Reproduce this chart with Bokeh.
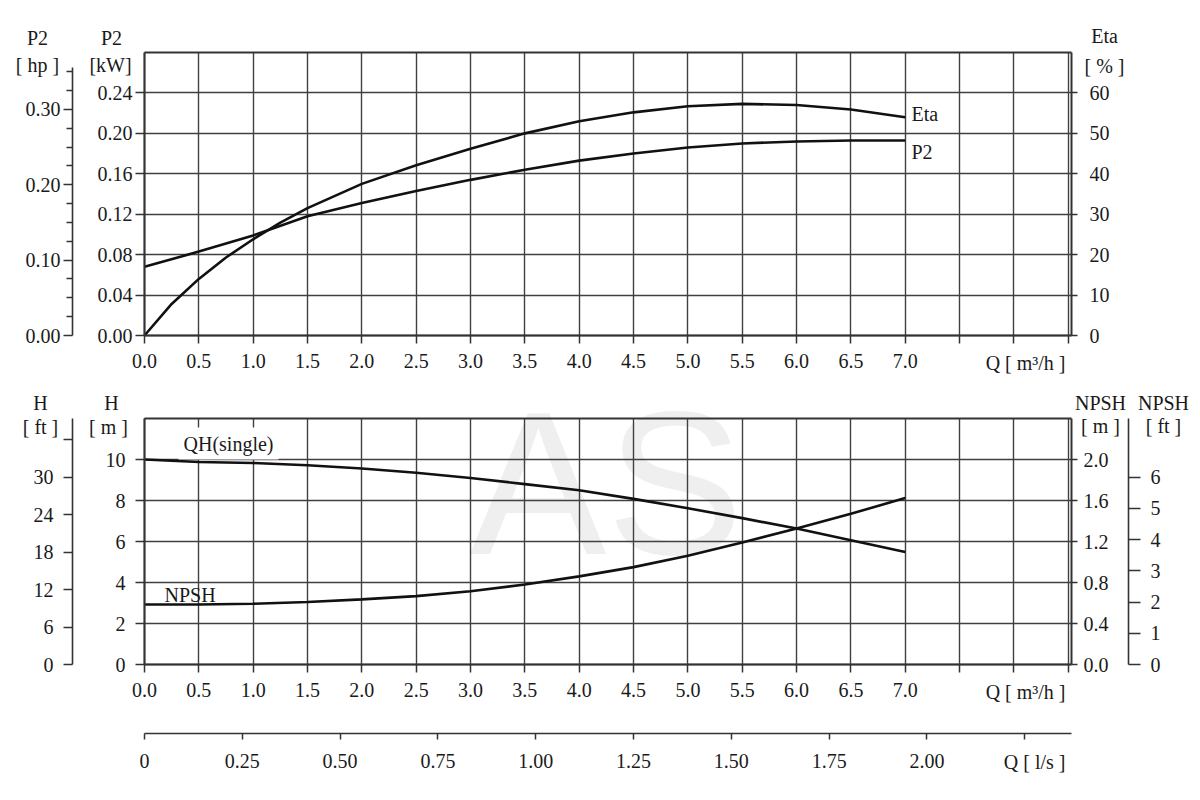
from bokeh.plotting import figure
from bokeh.models import (Range1d, LinearAxis, FixedTicker, Label, Grid,
                          NumeralTickFormatter)
from bokeh.embed import file_html
from bokeh.resources import INLINE

# ---------------- data ----------------
q_m3h = [0.0, 0.5, 1.0, 1.5, 2.0, 2.5, 3.0, 3.5, 4.0, 4.5, 5.0, 5.5, 6.0, 6.5, 7.0]
p2_kw = [0.068, 0.083, 0.099, 0.118, 0.131, 0.143, 0.154, 0.164, 0.173, 0.180,
         0.186, 0.190, 0.192, 0.193, 0.193]
q_eta = [0.0, 0.25, 0.5, 0.75, 1.0, 1.25, 1.5, 2.0, 2.5, 3.0, 3.5, 4.0, 4.5,
         5.0, 5.5, 6.0, 6.5, 7.0]
eta_pct = [0.0, 7.8, 14.0, 19.3, 23.8, 27.9, 31.5, 37.5, 42.1, 46.2, 50.0, 53.0,
           55.2, 56.7, 57.3, 57.0, 55.9, 54.0]
h_m = [10.0, 9.88, 9.83, 9.72, 9.56, 9.35, 9.10, 8.80, 8.50, 8.08,
       7.62, 7.14, 6.63, 6.06, 5.49]
npsh_m = [0.585, 0.585, 0.593, 0.61, 0.635, 0.667, 0.715, 0.78, 0.86, 0.95,
          1.06, 1.19, 1.327, 1.47, 1.625]

# ---------------- ticks ----------------
q_ticks = [0.0, 0.5, 1.0, 1.5, 2.0, 2.5, 3.0, 3.5, 4.0, 4.5, 5.0, 5.5, 6.0, 6.5,
           7.0, 7.5, 8.0, 8.5]
q_hidden = [7.5, 8.0, 8.5]
kw_ticks = [0.0, 0.04, 0.08, 0.12, 0.16, 0.20, 0.24]
hp_ticks = [0.0, 0.10, 0.20, 0.30]
hp_minor = [0.025, 0.05, 0.075, 0.125, 0.15, 0.175, 0.225, 0.25, 0.275, 0.325, 0.35]
eta_ticks = [0, 10, 20, 30, 40, 50, 60]
h_ticks = [0, 2, 4, 6, 8, 10]
hft_ticks = [0, 6, 12, 18, 24, 30, 36]
hft_hidden = [36]
npsh_ticks = [0.0, 0.4, 0.8, 1.2, 1.6, 2.0]
npshft_ticks = [0, 1, 2, 3, 4, 5, 6]
ls_ticks = [0.0, 0.25, 0.50, 0.75, 1.00, 1.25, 1.50, 1.75, 2.00, 2.25]

# unit conversions
KW_PER_HP = 0.7457
M_PER_FT = 0.3048
M3H_PER_LS = 3.6

# axis extents
Q_MAX = 8.53
KW_MAX = 0.28
ETA_MAX = 70.0
H_MAX = 12.0
NPSH_MAX = 2.4
HP_TOP = 0.355

# ---------------- page geometry (pixels) ----------------
W, H = 1192, 792
X0, PX_Q = 144, 927 / Q_MAX           # Q = 0 position, px per m3/h
TOP_Y0, PX_KW = 335, 283 / KW_MAX      # kW = 0 position, px per kW
BOT_Y0, PX_H = 664, 246 / H_MAX        # H = 0 position, px per m
X_HP = 72                              # outer left axes
X_NPSHFT = 1128                        # outer right axis
Y_LS = 733                             # l/s axis

FONT = "Liberation Serif"
FS = "20px"
TXT = "#1a1a1a"
GRID = "#404040"
AX = "#333333"


def q_at(px):
    return (px - X0) / PX_Q


def kw_at(py):
    return (TOP_Y0 - py) / PX_KW


def h_at(py):
    return (BOT_Y0 - py) / PX_H


p = figure(width=W, height=H, min_border=0,
           x_range=Range1d(q_at(0), q_at(W)), y_range=Range1d(kw_at(H), kw_at(0)),
           x_axis_location=None, y_axis_location=None,
           output_backend="svg", toolbar_location=None,
           background_fill_color="white", border_fill_color="white")
p.outline_line_color = None
p.grid.visible = False

p.extra_x_ranges = {"ls": Range1d(q_at(0) / M3H_PER_LS, q_at(W) / M3H_PER_LS)}
p.extra_y_ranges = {
    "hp": Range1d(kw_at(H) / KW_PER_HP, kw_at(0) / KW_PER_HP),
    "eta": Range1d(kw_at(H) * ETA_MAX / KW_MAX, kw_at(0) * ETA_MAX / KW_MAX),
    "h": Range1d(h_at(H), h_at(0)),
    "hft": Range1d(h_at(H) / M_PER_FT, h_at(0) / M_PER_FT),
    "npsh": Range1d(h_at(H) * NPSH_MAX / H_MAX, h_at(0) * NPSH_MAX / H_MAX),
    "npshft": Range1d(h_at(H) * NPSH_MAX / H_MAX / M_PER_FT,
                      h_at(0) * NPSH_MAX / H_MAX / M_PER_FT),
}


def add_axis(side, loc, bounds, ticks, xr="default", yr="default", fmt=None,
             hidden=(), tick_out=7, standoff=4, minor=None, line_w=1.6):
    ax = LinearAxis(fixed_location=loc, bounds=bounds, x_range_name=xr, y_range_name=yr)
    ax.ticker = FixedTicker(ticks=ticks, minor_ticks=minor or [])
    ax.major_label_text_font = FONT
    ax.major_label_text_font_size = FS
    ax.major_label_text_color = TXT
    ax.axis_line_color = AX
    ax.axis_line_width = line_w
    ax.major_tick_line_color = AX
    ax.major_tick_line_width = 1.5
    ax.major_tick_in = 0
    ax.major_tick_out = tick_out
    ax.minor_tick_in = 0
    if minor:
        ax.minor_tick_out = 6
        ax.minor_tick_line_color = AX
        ax.minor_tick_line_width = 1.4
    else:
        ax.minor_tick_line_color = None
    ax.major_label_standoff = standoff
    if fmt:
        ax.formatter = NumeralTickFormatter(format=fmt)
    if hidden:
        ax.major_label_overrides = {h: "" for h in hidden}
    p.add_layout(ax, side)
    return ax


def add_grid(dim, ticks, cross, yr="default"):
    g = Grid(dimension=dim, ticker=FixedTicker(ticks=ticks), cross_bounds=cross,
             y_range_name=yr, grid_line_color=GRID, grid_line_width=1.4)
    p.add_layout(g)


def add_label(sx, sy, text, align="center", bg=None):
    lab = Label(x=sx, y=H - sy, x_units="screen", y_units="screen", text=text,
                text_font=FONT, text_font_size=FS, text_align=align,
                text_baseline="middle", text_color=TXT)
    if bg:
        lab.background_fill_color = bg
        lab.padding = 5
    p.add_layout(lab)


# watermark (behind the grid)
p.add_layout(Label(x=606, y=H - 482, x_units="screen", y_units="screen", text="AS",
                   text_font="Liberation Sans", text_font_size="205px",
                   text_align="center", text_baseline="alphabetic",
                   text_color="#efefef", level="image"))

# ================= top panel: P2 / Eta =================
add_grid(0, q_ticks, (0, KW_MAX))
add_grid(1, kw_ticks, (0, Q_MAX))

add_axis("below", 0.0, (0, Q_MAX), q_ticks, fmt="0.0", hidden=q_hidden,
         tick_out=8, standoff=10, line_w=2)
add_axis("above", KW_MAX, (0, Q_MAX), [], line_w=2)
add_axis("left", 0.0, (0, KW_MAX), kw_ticks, fmt="0.00", tick_out=9, standoff=3, line_w=2)
add_axis("left", q_at(X_HP), (0, HP_TOP), hp_ticks, yr="hp", fmt="0.00",
         tick_out=9, standoff=3, minor=hp_minor)
add_axis("right", Q_MAX, (0, ETA_MAX), eta_ticks, yr="eta", tick_out=6,
         standoff=12, line_w=2)

p.line(q_m3h, p2_kw, line_color="#111111", line_width=2.6)
p.line(q_eta, eta_pct, y_range_name="eta", line_color="#111111", line_width=2.6)

add_label(37, 37, "P2")
add_label(37, 64, "[ hp ]")
add_label(111, 37, "P2")
add_label(110, 64, "[kW]")
add_label(1104, 35, "Eta")
add_label(1104, 65, "[ % ]")
add_label(911, 113, "Eta", align="left")
add_label(911, 151, "P2", align="left")
add_label(1070, 362, "Q  [ m³/h ]", align="right")

# ================= bottom panel: H / NPSH =================
add_grid(0, q_ticks, (0, H_MAX), yr="h")
add_grid(1, h_ticks, (0, Q_MAX), yr="h")

add_axis("below", 0.0, (0, Q_MAX), q_ticks, yr="h", fmt="0.0", hidden=q_hidden,
         tick_out=8, standoff=10, line_w=2)
add_axis("above", H_MAX, (0, Q_MAX), [], yr="h", line_w=2)
ls_ax = add_axis("below", h_at(Y_LS), (0, Q_MAX / M3H_PER_LS), ls_ticks, xr="ls",
                 yr="h", fmt="0.00", tick_out=6, standoff=14)
ls_ax.major_label_overrides = {0.0: "0", 2.25: ""}
add_axis("left", 0.0, (0, H_MAX), h_ticks, yr="h", tick_out=9, standoff=10, line_w=2)
add_axis("left", q_at(X_HP), (0, H_MAX / M_PER_FT), hft_ticks, yr="hft",
         hidden=hft_hidden, tick_out=9, standoff=10)
add_axis("right", Q_MAX, (0, NPSH_MAX), npsh_ticks, yr="npsh", fmt="0.0",
         tick_out=6, standoff=6, line_w=2)
add_axis("right", q_at(X_NPSHFT), (0, NPSH_MAX / M_PER_FT), npshft_ticks,
         yr="npshft", tick_out=12, standoff=10)

p.line(q_m3h, h_m, y_range_name="h", line_color="#111111", line_width=2.6)
p.line(q_m3h, npsh_m, y_range_name="npsh", line_color="#111111", line_width=2.6)

add_label(40, 402, "H")
add_label(40, 426, "[ ft ]")
add_label(111, 402, "H")
add_label(108, 426, "[ m ]")
add_label(1100, 402, "NPSH")
add_label(1100, 425, "[ m ]")
add_label(1163, 402, "NPSH")
add_label(1163, 425, "[ ft ]")
add_label(178, 443, "QH(single)", align="left", bg="white")
add_label(164, 594, "NPSH", align="left")
add_label(1070, 691, "Q  [ m³/h ]", align="right")
add_label(1070, 761, "Q  [ l/s ]", align="right")

open("out.html", "w").write(file_html(p, INLINE))
